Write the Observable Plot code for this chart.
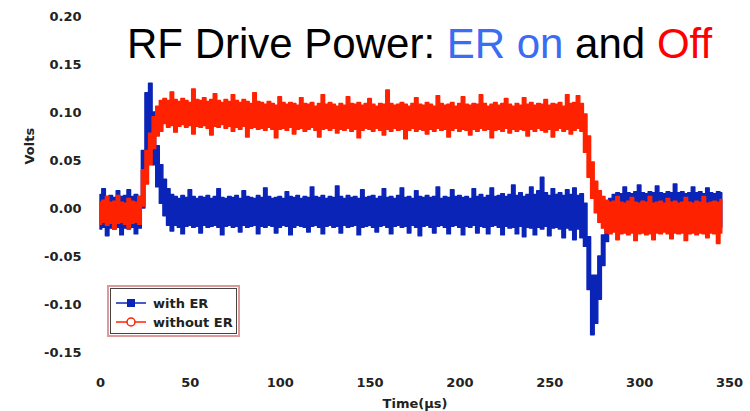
<!DOCTYPE html>
<html>
<head>
<meta charset="utf-8">
<script src="https://cdn.jsdelivr.net/npm/d3@7"></script>
<script src="https://cdn.jsdelivr.net/npm/@observablehq/plot@0.6"></script>
<style>
  html, body { margin: 0; padding: 0; background: #fff; }
  #wrap { position: relative; width: 750px; height: 411px; overflow: hidden; }
  #title { position: absolute; left: 127px; top: 23px; font: 42px/42px "Liberation Sans", Arial, sans-serif; color: #000; white-space: nowrap; }
  #legend { position: absolute; left: 107px; top: 285px; width: 129px; height: 48px; border: 2px solid #dd9a9a; }
  #legend .inner { position: absolute; left: 1px; top: 1px; right: 1px; bottom: 1px; border: 1.5px solid #444; }
  #legend .item { position: absolute; left: 6px; height: 18px; display: flex; align-items: center; font: bold 13px "DejaVu Sans", sans-serif; color: #222; white-space: nowrap; }
  #legend svg { margin-right: 6px; }
</style>
</head>
<body>
<div id="wrap">
  <div id="chart"></div>
  <div id="title"></div>
  <div id="legend"><div class="inner"></div></div>
</div>
<script>
// ---- text ----
const titleParts = [
  {text: "RF Drive Power: ", color: "#000000"},
  {text: "ER on", color: "#3a6cf4"},
  {text: " and ", color: "#000000"},
  {text: "Off", color: "#ff0000"}
];
const seriesNames = ["with ER", "without ER"];
const xLabel = "Time(μs)";
const yLabel = "Volts";
const xTicks = [0, 50, 100, 150, 200, 250, 300, 350];
const yTicks = [-0.15, -0.10, -0.05, 0.00, 0.05, 0.10, 0.15, 0.20];

// ---- sampling grid of the traces (µs) ----
const sampleStep = 2;
const sampleEnd = 346;

// ---- "with ER" trace: upper / lower edge of the noisy band (V) ----
const withHi = [
  0.014, 0.020, 0.012, 0.013, 0.011, 0.018, 0.012, 0.013, 0.019, 0.012, 0.014, 0.012,
  0.060, 0.120, 0.130, 0.100, 0.065, 0.045, 0.030, 0.020, 0.014,
  0.012, 0.010, 0.013, 0.011, 0.019, 0.012, 0.010, 0.012, 0.011, 0.013,
  0.010, 0.012, 0.020, 0.011, 0.010, 0.012, 0.011, 0.013, 0.010, 0.018,
  0.012, 0.011, 0.010, 0.013, 0.011, 0.021, 0.012, 0.010, 0.011, 0.012,
  0.010, 0.017, 0.012, 0.011, 0.013, 0.010, 0.012, 0.011, 0.022, 0.012,
  0.011, 0.013, 0.010, 0.012, 0.011, 0.023, 0.012, 0.010, 0.013, 0.011,
  0.012, 0.010, 0.019, 0.011, 0.012, 0.013, 0.010, 0.012, 0.020, 0.011,
  0.012, 0.010, 0.013, 0.021, 0.011, 0.012, 0.010, 0.018, 0.012, 0.011,
  0.013, 0.011, 0.012, 0.022, 0.010, 0.012, 0.011, 0.019, 0.012, 0.013,
  0.011, 0.012, 0.010, 0.020, 0.012, 0.014, 0.011, 0.013, 0.021, 0.012,
  0.013, 0.015, 0.012, 0.014, 0.024, 0.013, 0.016, 0.012, 0.014, 0.022,
  0.014, 0.018, 0.032, 0.016, 0.013, 0.020, 0.014, 0.016, 0.013, 0.019,
  0.014, 0.021, 0.013, 0.015,
  0.005, -0.030, -0.070, -0.070, -0.050, -0.028, -0.008, 0.010,
  0.014, 0.016, 0.015, 0.022, 0.016, 0.015, 0.017, 0.024, 0.016, 0.015,
  0.017, 0.016, 0.023, 0.016, 0.015, 0.017, 0.016, 0.025, 0.016, 0.017,
  0.015, 0.016, 0.022, 0.016, 0.017, 0.015, 0.021, 0.016, 0.015, 0.017,
  0.016
];
const withLo = [
  -0.022, -0.020, -0.029, -0.021, -0.022, -0.020, -0.028, -0.021, -0.022, -0.020, -0.027, -0.021,
  0.000, 0.050, 0.072, 0.045, 0.022, 0.005, -0.008, -0.018, -0.024,
  -0.018, -0.020, -0.027, -0.019, -0.018, -0.020, -0.019, -0.026, -0.018, -0.020,
  -0.019, -0.018, -0.020, -0.028, -0.019, -0.018, -0.020, -0.019, -0.025, -0.018,
  -0.020, -0.019, -0.018, -0.027, -0.019, -0.020, -0.018, -0.019, -0.026, -0.020,
  -0.018, -0.019, -0.028, -0.020, -0.018, -0.019, -0.020, -0.025, -0.019, -0.018,
  -0.020, -0.027, -0.019, -0.018, -0.020, -0.019, -0.026, -0.018, -0.020, -0.019,
  -0.018, -0.028, -0.020, -0.019, -0.018, -0.020, -0.025, -0.019, -0.018, -0.020,
  -0.027, -0.019, -0.018, -0.020, -0.019, -0.026, -0.018, -0.020, -0.029, -0.019,
  -0.018, -0.020, -0.026, -0.019, -0.018, -0.020, -0.027, -0.019, -0.018, -0.020,
  -0.028, -0.019, -0.020, -0.018, -0.026, -0.019, -0.020, -0.027, -0.019, -0.018,
  -0.020, -0.028, -0.019, -0.021, -0.020, -0.027, -0.019, -0.030, -0.020, -0.021,
  -0.028, -0.020, -0.022, -0.019, -0.029, -0.021, -0.020, -0.022, -0.031, -0.021,
  -0.023, -0.033, -0.022, -0.031,
  -0.040, -0.085, -0.132, -0.120, -0.095, -0.060, -0.035, -0.022,
  -0.020, -0.019, -0.021, -0.020, -0.019, -0.021, -0.020, -0.019, -0.021, -0.020,
  -0.019, -0.021, -0.020, -0.019, -0.021, -0.020, -0.019, -0.021, -0.020, -0.019,
  -0.021, -0.020, -0.019, -0.021, -0.020, -0.019, -0.021, -0.020, -0.019, -0.021,
  -0.020
];

// ---- "without ER" trace: upper / lower edge of the noisy band (V) ----
const withoutHi = [
  0.006, 0.008, 0.012, 0.006, 0.007, 0.013, 0.006, 0.005, 0.010, 0.007, 0.006, 0.012,
  0.040, 0.060, 0.078, 0.095, 0.106, 0.112,
  0.114, 0.112, 0.121, 0.113, 0.111, 0.114, 0.112, 0.110, 0.124, 0.113,
  0.112, 0.115, 0.111, 0.113, 0.119, 0.112, 0.110, 0.113, 0.111, 0.118,
  0.112, 0.110, 0.113, 0.111, 0.109, 0.120, 0.111,
  0.110, 0.108, 0.111, 0.109, 0.107, 0.116, 0.110, 0.108, 0.110, 0.109,
  0.107, 0.115, 0.109, 0.108, 0.110, 0.106, 0.109, 0.118, 0.108, 0.110,
  0.108, 0.106, 0.109, 0.107, 0.116, 0.109, 0.108, 0.110, 0.107, 0.109,
  0.114, 0.108, 0.106, 0.109, 0.108, 0.123, 0.109, 0.107, 0.108, 0.110,
  0.108, 0.106, 0.109, 0.115, 0.108, 0.107, 0.110, 0.108, 0.106, 0.117,
  0.109, 0.107, 0.108, 0.110, 0.106, 0.109, 0.116, 0.108, 0.107, 0.109,
  0.108, 0.118, 0.109, 0.106, 0.108, 0.110, 0.107, 0.109, 0.114, 0.108,
  0.106, 0.109, 0.107, 0.115, 0.108, 0.110, 0.107, 0.109, 0.108, 0.113,
  0.107, 0.109, 0.108, 0.110, 0.106, 0.118, 0.109, 0.110, 0.117, 0.109,
  0.098, 0.075, 0.048, 0.028, 0.018, 0.012,
  0.008, 0.006, 0.007, 0.012, 0.006, 0.005, 0.007, 0.011, 0.006, 0.005,
  0.007, 0.006, 0.012, 0.005, 0.006, 0.007, 0.005, 0.010, 0.006, 0.007,
  0.005, 0.006, 0.011, 0.006, 0.005, 0.007, 0.006, 0.012, 0.005, 0.006,
  0.007, 0.006, 0.009
];
const withoutLo = [
  -0.017, -0.015, -0.018, -0.016, -0.022, -0.016, -0.015, -0.017, -0.021, -0.016, -0.015, -0.017,
  0.002, 0.025, 0.045, 0.062, 0.075, 0.080,
  0.088, 0.084, 0.086, 0.079, 0.085, 0.087, 0.084, 0.086, 0.077, 0.085,
  0.084, 0.086, 0.083, 0.076, 0.085, 0.084, 0.087, 0.083, 0.085, 0.080,
  0.084, 0.082, 0.085, 0.074, 0.083, 0.084, 0.082,
  0.083, 0.081, 0.084, 0.082, 0.073, 0.082, 0.083, 0.081, 0.084, 0.077,
  0.082, 0.083, 0.080, 0.082, 0.084, 0.081, 0.074, 0.082, 0.083, 0.081,
  0.083, 0.078, 0.082, 0.081, 0.083, 0.080, 0.082, 0.073, 0.081, 0.083,
  0.082, 0.080, 0.083, 0.081, 0.076, 0.082, 0.080, 0.083, 0.081, 0.082,
  0.072, 0.081, 0.083, 0.080, 0.082, 0.081, 0.077, 0.082, 0.080, 0.083,
  0.081, 0.082, 0.074, 0.081, 0.083, 0.080, 0.082, 0.081, 0.076, 0.082,
  0.080, 0.083, 0.081, 0.082, 0.073, 0.081, 0.082, 0.080, 0.083, 0.078,
  0.082, 0.080, 0.082, 0.081, 0.075, 0.082, 0.080, 0.083, 0.081, 0.079,
  0.082, 0.074, 0.081, 0.083, 0.080, 0.082, 0.077, 0.081, 0.083, 0.080,
  0.058, 0.032, 0.010, -0.005, -0.015, -0.021,
  -0.026, -0.027, -0.025, -0.033, -0.027, -0.026, -0.028, -0.026, -0.034, -0.027,
  -0.026, -0.028, -0.027, -0.033, -0.026, -0.027, -0.025, -0.027, -0.032, -0.026,
  -0.027, -0.026, -0.034, -0.027, -0.026, -0.028, -0.026, -0.027, -0.031, -0.026,
  -0.027, -0.037, -0.026
];

// ---- colours ----
const BLUE = "#0b24b8";
const RED = "#ff2200";

// ---- build tables ----
const times = d3.range(0, sampleEnd + 1, sampleStep);
const blueRows = times.map((t, i) => ({t, lo: withLo[i], hi: withHi[i]}));
const redRows = times.map((t, i) => ({t, lo: withoutLo[i], hi: withoutHi[i]}));

const chart = Plot.plot({
  width: 750,
  height: 411,
  marginLeft: 100,
  marginRight: 21,
  marginTop: 16,
  marginBottom: 59,
  x: {domain: [0, 350]},
  y: {domain: [-0.15, 0.20]},
  style: {fontFamily: "DejaVu Sans", fontSize: "13px", fontWeight: "bold", color: "#222", background: "#fff", overflow: "visible"},
  marks: [
    Plot.areaY(blueRows, {x: "t", y1: "lo", y2: "hi", curve: "step", fill: BLUE, stroke: BLUE, strokeWidth: 1.4, strokeLinejoin: "round"}),
    Plot.areaY(redRows, {x: "t", y1: "lo", y2: "hi", curve: "step", fill: RED, stroke: RED, strokeWidth: 1.4, strokeLinejoin: "round"}),
    Plot.axisX(xTicks, {tickSize: 0, tickPadding: 25, label: null, fontWeight: "bold"}),
    Plot.axisY(yTicks, {tickSize: 0, tickPadding: 19, label: null, fontWeight: "bold", tickFormat: d => d.toFixed(2)}),
    Plot.text([xLabel], {text: d => d, frameAnchor: "bottom", dy: 51, lineAnchor: "middle", fontWeight: "bold", fontSize: 13}),
    Plot.text([yLabel], {text: d => d, frameAnchor: "left", dx: -71, dy: -20, rotate: -90, fontWeight: "bold", fontSize: 13})
  ]
});
document.getElementById("chart").appendChild(chart);

// title
const titleEl = document.getElementById("title");
for (const p of titleParts) {
  const s = document.createElement("span");
  s.textContent = p.text;
  s.style.color = p.color;
  titleEl.appendChild(s);
}

// legend
const legendEl = document.getElementById("legend");
const legendSymbols = [
  `<svg width="32" height="12"><line x1="1" y1="6" x2="31" y2="6" stroke="${BLUE}" stroke-width="1.5"/><rect x="12" y="2" width="8" height="8" fill="${BLUE}"/></svg>`,
  `<svg width="32" height="12"><line x1="1" y1="6" x2="31" y2="6" stroke="${RED}" stroke-width="1.5"/><circle cx="16" cy="6" r="4" fill="#fff" stroke="${RED}" stroke-width="1.5"/></svg>`
];
seriesNames.forEach((name, i) => {
  const item = document.createElement("div");
  item.className = "item";
  item.style.top = (i === 0 ? 7 : 26) + "px";
  item.innerHTML = legendSymbols[i] + `<span>${name}</span>`;
  legendEl.appendChild(item);
});
</script>
</body>
</html>
